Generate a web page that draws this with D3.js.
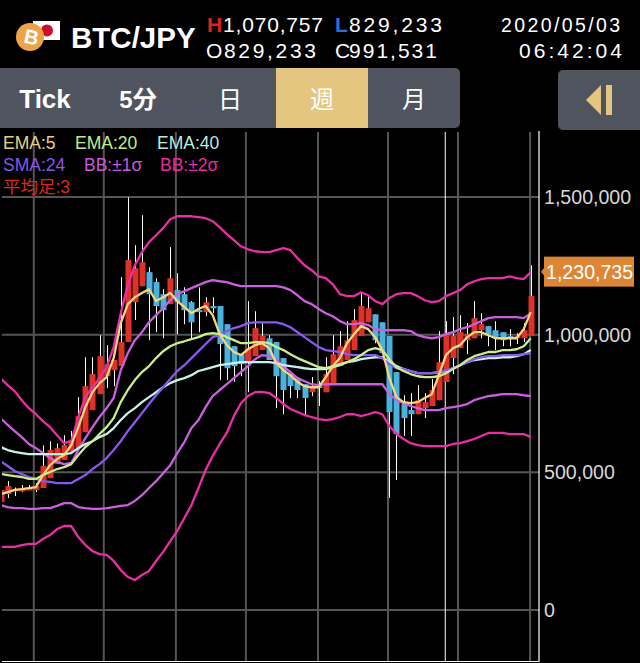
<!DOCTYPE html>
<html>
<head>
<meta charset="utf-8">
<script src="https://cdn.jsdelivr.net/npm/d3@7/dist/d3.min.js"></script>
<style>
html, body { margin: 0; padding: 0; background: #000; }
svg { display: block; }
text { font-family: "Liberation Sans", "Noto Sans CJK JP", sans-serif; }
</style>
</head>
<body>
<div id="chart"></div>
<script>
// weekly BTC/JPY, all prices in thousand JPY
var open  = [392,421,431,431,434,436,443,479,530,545,575,588,646,726,784,849,871,886,973,1118,1176,1227,1191,1147,1111,1162,1147,1118,1089,1082,1104,1104,1038,958,929,900,922,944,987,973,915,857,842,820,791,813,791,824,886,908,944,995,1045,1074,1045,995,864,748,726,711,733,741,762,828,915,951,980,987,1016,1031,1016,1009,995,987,987,995];
var high  = [436,468,445,454,454,460,598,613,605,635,650,773,918,918,998,962,908,1209,1499,1325,1434,1245,1205,1165,1318,1223,1172,1122,1172,1136,1136,1104,1038,958,929,1122,1085,1042,998,973,915,857,842,820,846,831,918,998,1013,1049,1093,1154,1143,1074,1045,995,864,780,788,817,788,839,1013,1049,1064,1071,1042,1122,1078,1031,1049,1009,1020,1005,1042,1252];
var low   = [392,407,414,429,436,428,443,479,530,545,575,588,646,726,784,806,813,886,973,1053,1176,980,1009,987,1111,1002,1038,987,1009,1067,1078,835,835,828,849,791,922,944,908,733,711,770,770,704,777,741,791,824,886,908,944,995,1045,969,933,407,472,632,632,711,697,741,762,828,857,951,929,987,987,958,944,958,958,966,973,995];
var close = [436,450,438,442,444,450,523,581,588,599,617,704,813,857,922,893,908,973,1271,1241,1263,1147,1104,1089,1205,1118,1089,1045,1082,1118,1096,966,878,886,893,951,1024,995,908,849,799,813,799,770,813,806,857,929,958,980,1053,1104,1096,980,933,719,639,697,711,762,755,799,900,1002,995,1009,1002,1060,1038,1002,987,980,987,995,1016,1140];

var ema5  = [421,428,436,439,443,446,490,526,548,563,599,664,737,791,824,846,915,1042,1111,1136,1151,1165,1122,1136,1151,1122,1100,1078,1093,1104,1071,1002,962,937,926,947,962,969,951,897,871,853,828,813,809,809,846,886,915,969,1002,1031,1020,991,944,842,773,755,751,755,770,784,853,926,951,962,991,1009,1009,998,987,987,987,987,1020,1082];
var ema20 = [494,490,486,483,476,476,490,501,512,519,530,563,592,613,639,664,697,755,799,835,864,886,915,940,958,969,976,984,991,1002,1006,1002,991,980,969,969,973,973,969,955,944,929,915,904,893,882,878,886,893,900,911,926,944,951,944,911,882,868,857,849,846,846,849,860,875,889,908,922,929,937,937,944,944,947,958,987];
var ema40 = [592,581,574,570,566,566,566,566,566,566,570,588,603,613,628,639,661,690,715,733,755,773,791,809,824,835,842,853,868,875,882,889,893,897,900,900,900,900,900,897,889,886,882,878,875,875,875,882,889,900,904,911,915,918,918,900,886,875,868,860,860,860,864,868,878,889,900,908,911,915,915,918,918,922,929,944];
var sma24 = [541,523,505,494,483,476,468,465,461,461,461,476,490,512,530,552,581,613,650,682,715,748,780,809,839,868,889,915,940,966,991,998,1013,1024,1031,1042,1045,1045,1045,1045,1038,1027,1009,991,973,955,944,940,937,929,926,926,926,926,915,893,878,875,868,860,860,860,864,871,878,889,900,911,918,922,922,926,926,926,929,933];
var bbUp1 = [697,672,650,628,603,588,570,552,537,530,534,581,624,664,701,733,770,871,933,980,1009,1045,1071,1096,1125,1147,1158,1169,1180,1191,1198,1194,1191,1183,1176,1176,1176,1176,1176,1176,1172,1162,1143,1122,1111,1093,1078,1067,1049,1038,1038,1042,1035,1020,1016,1016,1016,1016,1013,998,991,987,991,1002,1009,1020,1027,1038,1049,1060,1064,1064,1064,1064,1060,1078];
var bbLo1 = [381,374,370,370,367,367,370,370,378,388,388,374,370,367,367,370,374,378,381,396,417,443,468,497,526,570,610,661,690,737,777,799,820,842,864,886,911,926,922,908,886,864,842,831,820,817,820,820,820,820,820,820,820,820,820,784,762,751,741,733,726,726,726,733,737,741,748,762,770,777,780,784,784,784,780,777];
var bbUp2 = [842,817,795,762,733,711,686,664,635,606,613,701,773,809,842,882,955,1078,1180,1252,1300,1336,1361,1387,1419,1430,1430,1430,1427,1423,1412,1390,1365,1343,1321,1310,1303,1300,1300,1307,1314,1307,1278,1252,1234,1212,1205,1183,1147,1140,1140,1154,1143,1122,1111,1133,1147,1151,1151,1140,1125,1118,1122,1140,1151,1162,1183,1194,1202,1205,1205,1205,1212,1205,1202,1227];
var bbLo2 = [229,229,229,236,240,240,258,272,294,305,305,265,236,214,203,200,178,145,120,109,127,142,178,211,250,287,334,381,443,508,559,603,643,704,751,777,791,792,788,770,748,730,719,708,701,693,690,693,701,711,711,704,711,719,711,668,639,621,606,599,595,595,595,595,603,606,613,621,632,643,643,643,639,639,639,628];

var priceTicks = [0, 500, 1000, 1500];
var gridIdx    = [4.7, 14.6, 24.8, 34.7, 44.9, 54.8, 64.7, 74.9];
var cursorIdx  = 62.9;
var lastPrice  = 1230.735;

var legend1 = [['EMA:5', '#e9cf7f', 3], ['EMA:20', '#c5ea8e', 75], ['EMA:40', '#bfe9e0', 157]];
var legend2 = [['SMA:24', '#8a55ea', 3], ['BB:±1σ', '#c659dd', 84], ['BB:±2σ', '#e62ba3', 160]];
var legend3 = [['平均足:3', '#d8281f', 3]];

var tabs = ['Tick', '5分', '日', '週', '月'];
var tabX = [45, 138, 230, 322, 414];

var svg = d3.select('#chart').append('svg')
	.attr('width', 640)
	.attr('height', 663);

svg.append('rect').attr('width', 640).attr('height', 663).attr('fill', '#000');

var x = d3.scaleLinear().domain([0, 75]).range([0.55, 530.8]);
var y = d3.scaleLinear().domain([0, 1500]).range([610, 197]);

var fmt = d3.format(',');

drawHeader();
drawGrid();
drawCandles();
drawLines();
drawLegend();
drawAxis();

function headerText(s, px, py, size, color, weight) {
	return svg.append('text')
		.attr('x', px)
		.attr('y', py)
		.attr('font-size', size)
		.attr('font-weight', weight || 'normal')
		.attr('fill', color || '#fff')
		.text(s);
}

function drawHeader() {
	// flag + coin
	svg.append('rect').attr('x', 33).attr('y', 21).attr('width', 27).attr('height', 19).attr('fill', '#fff');
	svg.append('circle').attr('cx', 47).attr('cy', 30.5).attr('r', 6).attr('fill', '#c8102e');
	svg.append('circle').attr('cx', 30).attr('cy', 37).attr('r', 14).attr('fill', '#eda448');
	svg.append('text')
		.attr('transform', 'translate(30,44) rotate(12)')
		.attr('text-anchor', 'middle')
		.attr('font-size', 20)
		.attr('font-weight', 'bold')
		.attr('fill', '#fff')
		.text('B');

	headerText('BTC/JPY', 71, 48, 29.5, '#fff', 'bold');

	var letters = [['H', '#d9251c', 207, 32], ['L', '#2a6fd6', 335, 32], ['O', '#fff', 206, 58], ['C', '#fff', 335, 58]];
	letters.forEach(function (d) {
		headerText(d[0], d[2], d[3], 21, d[1], d[1] != '#fff' ? 'bold' : 'normal');
	});

	var nums = [['1,070,757', 223, 32, 100], ['829,233', 349, 32, 93], ['829,233', 224, 58, 92], ['991,531', 349, 58, 88]];
	nums.forEach(function (d) {
		headerText(d[0], d[1], d[2], 21, '#fff')
			.attr('textLength', d[3])
			.attr('lengthAdjust', 'spacing');
	});

	headerText('2020/05/03', 501, 32, 19.5, '#fff').attr('textLength', 119).attr('lengthAdjust', 'spacing');
	headerText('06:42:04', 519, 58, 21, '#fff').attr('textLength', 103).attr('lengthAdjust', 'spacing');

	// tab bar
	svg.append('rect').attr('x', -10).attr('y', 68).attr('width', 470).attr('height', 60).attr('rx', 5).attr('fill', '#50545e');
	svg.append('rect').attr('x', 276).attr('y', 68).attr('width', 92).attr('height', 60).attr('fill', '#e4c680');

	svg.selectAll('.tab').data(tabs).enter().append('text')
		.attr('class', 'tab')
		.attr('x', function (d, i) { return tabX[i]; })
		.attr('y', 107.5)
		.attr('text-anchor', 'middle')
		.attr('font-size', function (d, i) { return i == 0 ? 26 : 24; })
		.attr('font-weight', function (d, i) { return i == 0 || i == 1 ? 'bold' : 'normal'; })
		.attr('font-family', '"Noto Sans CJK JP", "Liberation Sans", sans-serif')
		.attr('fill', '#fff')
		.text(function (d) { return d; });

	svg.append('rect').attr('x', 558).attr('y', 70).attr('width', 92).attr('height', 60).attr('rx', 5).attr('fill', '#50545e');
	svg.append('path').attr('d', 'M586,100 L601,85 L601,115 Z').attr('fill', '#e4c680');
	svg.append('rect').attr('x', 606).attr('y', 85).attr('width', 6).attr('height', 30).attr('fill', '#e4c680');
}

function drawGrid() {
	svg.selectAll('.hgrid').data(priceTicks).enter().append('line')
		.attr('class', 'hgrid')
		.attr('x1', 2).attr('x2', 539)
		.attr('y1', function (d) { return y(d); })
		.attr('y2', function (d) { return y(d); })
		.attr('stroke', '#555')
		.attr('stroke-width', 2);

	svg.selectAll('.vgrid').data(gridIdx).enter().append('line')
		.attr('class', 'vgrid')
		.attr('x1', function (d) { return x(d); })
		.attr('x2', function (d) { return x(d); })
		.attr('y1', 132).attr('y2', 662)
		.attr('stroke', '#555')
		.attr('stroke-width', 2);

	// right border, bottom border, cursor
	svg.append('line').attr('x1', 539).attr('x2', 539).attr('y1', 131).attr('y2', 662).attr('stroke', '#fff').attr('stroke-width', 1.2);
	svg.append('line').attr('x1', 2).attr('x2', 539).attr('y1', 661.5).attr('y2', 661.5).attr('stroke', '#fff').attr('stroke-width', 1.2);
	svg.append('line').attr('x1', x(cursorIdx)).attr('x2', x(cursorIdx)).attr('y1', 132).attr('y2', 662).attr('stroke', '#fff').attr('stroke-width', 1);
}

function drawCandles() {
	var clip = svg.append('clipPath').attr('id', 'plot');
	clip.append('rect').attr('x', 2).attr('y', 132).attr('width', 537).attr('height', 530);

	var g = svg.append('g').attr('clip-path', 'url(#plot)');

	var idx = d3.range(open.length);

	g.selectAll('.wick').data(idx).enter().append('line')
		.attr('class', 'wick')
		.attr('x1', function (i) { return Math.round(x(i)) + 0.5; })
		.attr('x2', function (i) { return Math.round(x(i)) + 0.5; })
		.attr('y1', function (i) { return y(high[i]); })
		.attr('y2', function (i) { return y(low[i]); })
		.attr('stroke', '#fff')
		.attr('stroke-width', 1);

	g.selectAll('.body').data(idx).enter().append('rect')
		.attr('class', 'body')
		.attr('x', function (i) { return Math.round(x(i)) - 2.5; })
		.attr('width', 6)
		.attr('y', function (i) { return y(Math.max(open[i], close[i])); })
		.attr('height', function (i) { return Math.max(1, Math.abs(y(open[i]) - y(close[i]))); })
		.attr('fill', function (i) { return close[i] >= open[i] ? '#de3129' : '#4bb2dd'; });
}

function drawLines() {
	var g = svg.append('g').attr('clip-path', 'url(#plot)');
	var line = d3.line()
		.x(function (d, i) { return x(i); })
		.y(function (d) { return y(d); });

	var series = [
		[bbUp2, '#ea2ea6'],
		[bbLo2, '#ea2ea6'],
		[bbUp1, '#cb5fe0'],
		[bbLo1, '#cb5fe0'],
		[ema40, '#c6f2ec'],
		[sma24, '#8c57ee'],
		[ema20, '#c9ee8b'],
		[ema5,  '#f5d67c']
	];

	series.forEach(function (s) {
		g.append('path')
			.attr('d', line(s[0]))
			.attr('fill', 'none')
			.attr('stroke', s[1])
			.attr('stroke-width', 2.3)
			.attr('stroke-linejoin', 'round');
	});
}

function drawLegend() {
	[[legend1, 149], [legend2, 171], [legend3, 193]].forEach(function (row) {
		svg.selectAll(null).data(row[0]).enter().append('text')
			.attr('x', function (d) { return d[2]; })
			.attr('y', row[1])
			.attr('font-size', 17.5)
			.attr('fill', function (d) { return d[1]; })
			.text(function (d) { return d[0]; });
	});
}

function drawAxis() {
	svg.selectAll('.ptick').data(priceTicks).enter().append('text')
		.attr('class', 'ptick')
		.attr('x', 544)
		.attr('y', function (d) { return y(d) + 7; })
		.attr('font-size', 19.6)
		.attr('fill', '#d8d8d8')
		.text(function (d) { return fmt(d * 1000); });

	var py = y(lastPrice) + 0.5;
	svg.append('path')
		.attr('d', 'M541,' + py + ' L545,' + (py - 5) + ' L545,' + (py + 5) + ' Z')
		.attr('fill', '#dd8636');
	svg.append('rect')
		.attr('x', 544).attr('y', py - 15)
		.attr('width', 90).attr('height', 30)
		.attr('fill', '#dd8636');
	svg.append('text')
		.attr('x', 546).attr('y', py + 7)
		.attr('font-size', 19.6)
		.attr('fill', '#fff')
		.text(fmt(lastPrice * 1000));
}
</script>
</body>
</html>
